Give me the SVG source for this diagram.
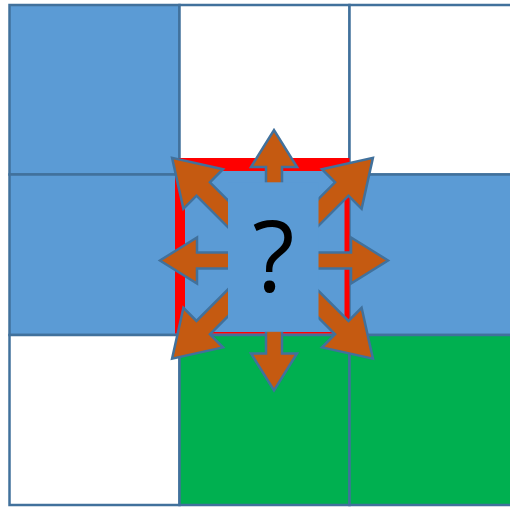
<svg xmlns="http://www.w3.org/2000/svg" width="510" height="508" viewBox="0 0 510 508">
  <style>
    .cell { stroke: #41719C; stroke-width: 2.5; }
    .blue { fill: #5B9BD5; }
    .white { fill: #FFFFFF; }
    .green { fill: #00B050; }
    .arrow { fill: #C55A11; stroke: #41719C; stroke-width: 2.5; stroke-linejoin: miter; }
    .q { font-family: "Open Sans", "Liberation Sans", sans-serif; font-size: 98px; fill: #000000; }
  </style>
  <g id="grid">
    <rect id="c00" class="cell blue" x="9.5" y="5" width="170" height="169.5"/>
    <rect id="c10" class="cell white" x="179.5" y="5" width="170" height="169.5"/>
    <rect id="c20" class="cell white" x="349.5" y="5" width="175" height="169.5"/>
    <rect id="c01" class="cell blue" x="9.5" y="174.5" width="170" height="160.5"/>
    <rect id="c11" class="cell blue" x="179.5" y="174.5" width="170" height="160.5"/>
    <rect id="c21" class="cell blue" x="349.5" y="174.5" width="175" height="160.5"/>
    <rect id="c02" class="cell white" x="9.5" y="335" width="170" height="170"/>
    <rect id="c12" class="cell green" x="179.5" y="335" width="170" height="170"/>
    <rect id="c22" class="cell green" x="349.5" y="335" width="175" height="170"/>
  </g>
  <g id="highlight">
    <rect x="175" y="158" width="174.5" height="175.5" fill="#FF0000"/>
    <rect x="185" y="171" width="159.5" height="161" fill="#5B9BD5"/>
  </g>
  <g id="connectors">
    <g transform="translate(274,260.5)">
      <polygon class="arrow" points="0,-8 77,-8 77,-23 114,0 77,23 77,8 0,8"/>
      <polygon class="arrow" transform="rotate(180)" points="0,-8 77,-8 77,-23 114,0 77,23 77,8 0,8"/>
      <polygon class="arrow" transform="rotate(-90)" points="0,-8 93.5,-8 93.5,-23 130.5,0 93.5,23 93.5,8 0,8"/>
      <polygon class="arrow" transform="rotate(90)" points="0,-8 93,-8 93,-23 130,0 93,23 93,8 0,8"/>
    </g>
    <g transform="translate(272.5,258.3)">
      <polygon class="arrow" transform="rotate(-135)" points="0,-9.5 98,-9.5 98,-28 142,0 98,28 98,9.5 0,9.5"/>
      <polygon class="arrow" transform="rotate(-45)" points="0,-9.5 98,-9.5 98,-28 142,0 98,28 98,9.5 0,9.5"/>
      <polygon class="arrow" transform="rotate(45)" points="0,-9.5 98,-9.5 98,-28 142,0 98,28 98,9.5 0,9.5"/>
      <polygon class="arrow" transform="rotate(135)" points="0,-9.5 98,-9.5 98,-28 142,0 98,28 98,9.5 0,9.5"/>
    </g>
  </g>
  <g id="center">
    <rect x="228" y="182.3" width="90.5" height="149.5" fill="#5B9BD5"/>
    <text class="q" x="273.5" y="291.7" text-anchor="middle">?</text>
  </g>
</svg>
